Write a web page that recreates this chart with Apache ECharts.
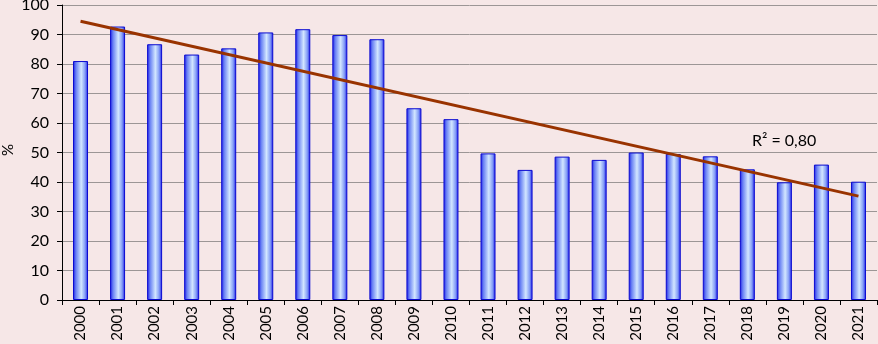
<!DOCTYPE html>
<html><head><meta charset="utf-8">
<script src="https://cdn.jsdelivr.net/npm/echarts@6/dist/echarts.min.js"></script>
<style>html,body{margin:0;padding:0;background:#f6e7e7}#c{width:878px;height:344px}</style>
</head><body><div id="c"></div>
<script>
const years = ['2000','2001','2002','2003','2004','2005','2006','2007','2008','2009','2010','2011','2012','2013','2014','2015','2016','2017','2018','2019','2020','2021'];
const values = [81, 92.7, 86.7, 83.2, 85.3, 90.7, 91.8, 89.8, 88.4, 65.0, 61.3, 49.7, 44.1, 48.6, 47.5, 50.0, 49.5, 48.7, 44.3, 39.9, 45.9, 40.1];
const trendYears = ['2000', '2021'];
const trendValues = [94.5, 35.2];
const yTicks = [0,10,20,30,40,50,60,70,80,90,100];
const r2Label = 'R² = 0,80';
const yName = '%';

const chart = echarts.init(document.getElementById('c'), null, {renderer:'canvas'});
const font = 'Lato, "Open Sans", sans-serif';
chart.setOption({
  backgroundColor: '#f6e7e7',
  animation: false,
  grid: {left: 62, right: 1, top: 5, bottom: 44, containLabel: false, outerBoundsMode: 'none'},
  xAxis: {
    type: 'category', data: years,
    axisLine: {lineStyle: {color: '#000', width: 1}},
    axisTick: {show: true, alignWithLabel: false, length: 5, lineStyle: {color: '#000'}},
    axisLabel: {rotate: 90, color: '#000', fontSize: 15, fontFamily: font, margin: 6}
  },
  yAxis: {
    type: 'value', min: yTicks[0], max: yTicks[yTicks.length-1], interval: 10,
    axisLine: {show: true, lineStyle: {color: '#000'}},
    axisTick: {show: true, length: 5, inside: false, lineStyle: {color: '#000'}},
    axisLabel: {color: '#000', fontSize: 16, fontFamily: font, margin: 13},
    splitLine: {lineStyle: {color: '#9c9696', width: 1}}
  },
  series: [
    {
      type: 'bar', data: values, barWidth: 15,
      itemStyle: {
        color: new echarts.graphic.LinearGradient(0,0,1,0,[
          {offset:0, color:'#1c1ce6'},
          {offset:0.2, color:'#6a82f4'},
          {offset:0.55, color:'#d2e6ff'},
          {offset:0.8, color:'#859ef6'},
          {offset:1, color:'#1c1ce6'}
        ]),
        borderColor: '#0a0ad0', borderWidth: 1
      }
    },
    {
      type: 'line', data: trendYears.map((y,i)=>[y, trendValues[i]]),
      symbol: 'none', lineStyle: {color: '#993300', width: 3}, z: 5
    }
  ],
  graphic: [{
    type: 'text', left: 752, top: 133,
    style: {text: r2Label, fill: '#000', font: '16px ' + font}
  }, {
    type: 'text', x: 8, y: 150, rotation: Math.PI/2,
    style: {text: yName, fill: '#000', font: '15px ' + font, align: 'center', verticalAlign: 'middle'}
  }]
});
</script></body></html>
